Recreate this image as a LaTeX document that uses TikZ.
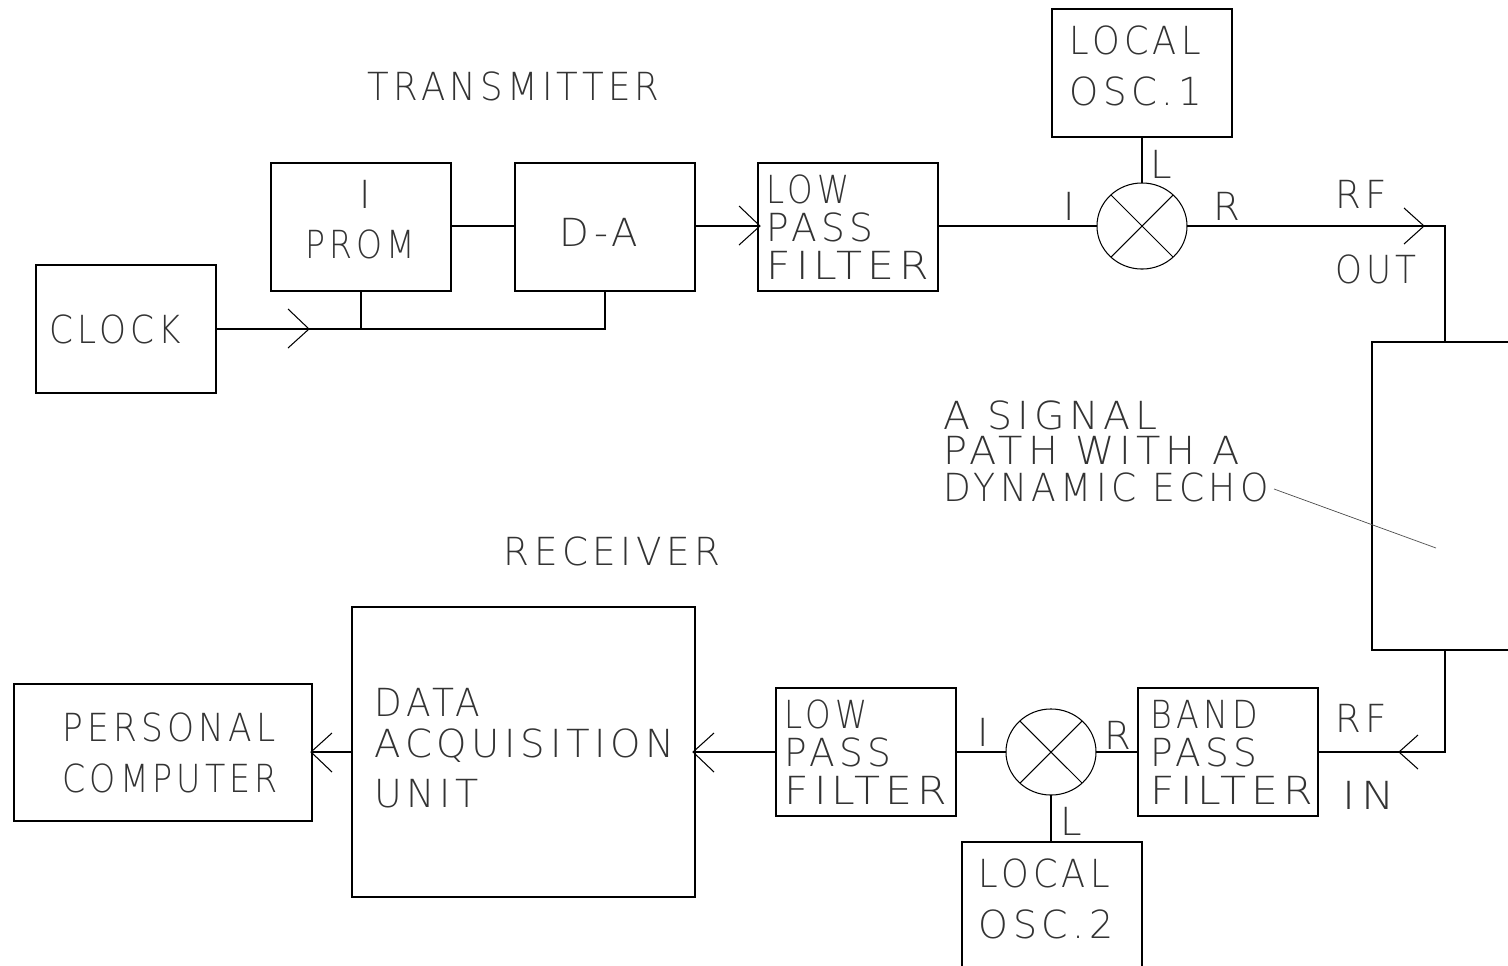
\documentclass[tikz,border=0pt]{standalone}
\usepackage{xcolor}
\usepackage{fontspec}
\usepackage{tikz}
\usetikzlibrary{shapes.geometric}
\setmainfont[LetterSpace=12]{DejaVu Sans ExtraLight}
\newcommand{\sx}[2]{\scalebox{#1}[1]{#2}}
\tikzset{
	blockbox/.style={draw,line width=0.42pt,anchor=north west,inner sep=0pt,outer sep=0pt},
	mixer/.style={draw,line width=0.3pt,ellipse,inner sep=0pt,outer sep=0pt,minimum width=0.9cm,minimum height=0.86cm},
	lbl/.style={font=\fontsize{11}{11}\selectfont,anchor=west,inner sep=0pt,text=black!80},
	wire/.style={line width=0.42pt},
	chev/.style={line width=0.3pt}
}
\begin{document}
\begin{tikzpicture}[x=0.01cm,y=-0.01cm]
	\useasboundingbox (0,0) rectangle (1508,966);
	% blocks
	\node[blockbox,minimum width=1.8cm,minimum height=1.28cm] (clock) at (36,265) {};
	\node[blockbox,minimum width=1.8cm,minimum height=1.28cm] (prom) at (271,163) {};
	\node[blockbox,minimum width=1.8cm,minimum height=1.28cm] (da) at (515,163) {};
	\node[blockbox,minimum width=1.8cm,minimum height=1.28cm] (lpfa) at (758,163) {};
	\node[blockbox,minimum width=1.8cm,minimum height=1.28cm] (osca) at (1052,9) {};
	\node[blockbox,minimum width=1.8cm,minimum height=1.28cm] (lpfb) at (776,688) {};
	\node[blockbox,minimum width=1.8cm,minimum height=1.28cm] (bpf) at (1138,688) {};
	\node[blockbox,minimum width=3.43cm,minimum height=2.9cm] (daq) at (352,607) {};
	\node[blockbox,minimum width=2.98cm,minimum height=1.37cm] (pc) at (14,684) {};
	\node[blockbox,minimum width=1.8cm,minimum height=1.5cm] (oscb) at (962,842) {};
	\node[blockbox,minimum width=1.5cm,minimum height=3.08cm] (path) at (1372,342) {};
	\node[mixer] (mixa) at (1142,226) {};
	\node[mixer] (mixb) at (1051,752) {};
	\draw[chev] (mixa.45) -- (mixa.225) (mixa.135) -- (mixa.315);
	\draw[chev] (mixb.45) -- (mixb.225) (mixb.135) -- (mixb.315);
	% connectors
	\coordinate (clockj) at (361,329);
	\draw[wire] (clock.east |- clockj) -- (clockj) -- (prom.south -| clockj);
	\draw[wire] (clockj) -| (605,291);
	\draw[chev] (288,309) -- (309,329) -- (288,348);
	\draw[wire] (prom.east |- 0,226) -- (da.west |- 0,226);
	\draw[wire] (da.east |- 0,226) -- (lpfa.west |- 0,226);
	\draw[chev] (739,206) -- (760,226) -- (739,245);
	\draw[wire] (lpfa.east |- mixa) -- (mixa.west);
	\draw[wire] (osca.south -| mixa) -- (mixa.north);
	\coordinate (rfout) at (1445,226);
	\draw[wire] (mixa.east) -- (rfout) -- (path.north -| rfout);
	\draw[chev] (1404,208) -- (1424,226) -- (1404,244);
	\coordinate (rfin) at (1445,752);
	\draw[wire] (path.south -| rfin) -- (rfin) -- (bpf.east |- rfin);
	\draw[chev] (1418,735) -- (1399,752) -- (1418,769);
	\draw[wire] (bpf.west |- mixb) -- (mixb.east);
	\draw[wire] (mixb.west) -- (lpfb.east |- mixb);
	\draw[wire] (mixb.south) -- (oscb.north -| mixb);
	\draw[wire] (lpfb.west |- mixb) -- (daq.east |- mixb);
	\draw[chev] (714,733) -- (693,752) -- (714,772);
	\draw[wire] (daq.west |- mixb) -- (pc.east |- mixb);
	\draw[chev] (332,733) -- (311,752) -- (332,772);
	\coordinate (echoa) at (1274,489);
	\coordinate (echob) at (1436,548);
	\draw[line width=0.2pt,black!70] (echoa) -- (echob);
	% labels
	\node[lbl] (ttx) at (367,86) {\sx{.918}{TRANSMITTER}};
	\node[lbl] (trx) at (503,551) {\sx{.964}{RECEIVER}};
	\node[lbl] (tclock) at (49,329) {\sx{.886}{CLOCK}};
	\node[lbl] (ti) at (359,194) {I};
	\node[lbl] (tprom) at (305,244) {\sx{.855}{PROM}};
	\node[lbl] (tda) at (559,232) {D-A};
	\node[lbl] (ta1) at (766,189) {\sx{.84}{LOW}};
	\node[lbl] (ta2) at (766,227) {\sx{.97}{PASS}};
	\node[lbl] (ta3) at (766,265) {\sx{1.10}{FILTER}};
	\node[lbl] (tb1) at (784,714) {\sx{.84}{LOW}};
	\node[lbl] (tb2) at (784,752) {\sx{.97}{PASS}};
	\node[lbl] (tb3) at (784,790) {\sx{1.10}{FILTER}};
	\node[lbl] (tc1) at (1150,714) {\sx{.86}{BAND}};
	\node[lbl] (tc2) at (1150,752) {\sx{.97}{PASS}};
	\node[lbl] (tc3) at (1150,790) {\sx{1.10}{FILTER}};
	\node[lbl] (to1) at (1069,40) {\sx{.91}{LOCAL}};
	\node[lbl] (to2) at (1069,91) {\sx{.96}{OSC.1}};
	\node[lbl] (tp1) at (978,873) {\sx{.91}{LOCAL}};
	\node[lbl] (tp2) at (978,924) {\sx{.98}{OSC.2}};
	\node[lbl] (tmi) at (1063,206) {I};
	\node[lbl] (tml) at (1150,164) {L};
	\node[lbl] (tmr) at (1213,206) {R};
	\node[lbl] (tni) at (977,732) {I};
	\node[lbl] (tnr) at (1104,735) {R};
	\node[lbl] (tnl) at (1060,821) {L};
	\node[lbl] (trfa) at (1335,194) {\sx{.96}{RF}};
	\node[lbl] (tout) at (1335,269) {\sx{.886}{OUT}};
	\node[lbl] (trfb) at (1335,718) {\sx{.96}{RF}};
	\node[lbl] (tin) at (1342,795) {\sx{1.15}{IN}};
	\node[lbl] (tsa) at (943,415) {\sx{1.02}{A SIGNAL}};
	\node[lbl] (tsb) at (943,450) {\sx{1.03}{PATH WITH A}};
	\node[lbl] (tsc) at (943,487) {\sx{.933}{DYNAMIC ECHO}};
	\node[lbl] (tqa) at (374,702) {\sx{.93}{DATA}};
	\node[lbl] (tqb) at (374,746) {ACQUISITION};
	\node[lbl] (tqc) at (374,794) {\sx{.98}{UNIT}};
	\node[lbl] (tpa) at (62,727) {\sx{.89}{PERSONAL}};
	\node[lbl] (tpb) at (62,778) {\sx{.86}{COMPUTER}};
\end{tikzpicture}
\end{document}
